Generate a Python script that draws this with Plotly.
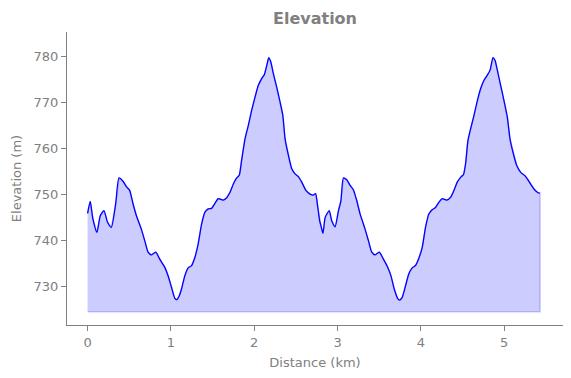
import plotly.graph_objects as go

distance_km = [
    0.000, 0.032, 0.064, 0.112, 0.152, 0.196, 0.240, 0.285, 0.337, 0.377,
    0.425, 0.466, 0.505, 0.545, 0.586, 0.645, 0.686, 0.726, 0.766, 0.818,
    0.866, 0.927, 0.966, 1.007, 1.047, 1.070, 1.099, 1.127, 1.167, 1.207,
    1.248, 1.288, 1.327, 1.368, 1.408, 1.448, 1.488, 1.528, 1.568, 1.628,
    1.669, 1.709, 1.749, 1.789, 1.820, 1.848, 1.889, 1.929, 1.969, 2.010,
    2.049, 2.090, 2.120, 2.150, 2.174, 2.198, 2.230, 2.270, 2.310, 2.343,
    2.370, 2.410, 2.450, 2.490, 2.530, 2.570, 2.620, 2.670, 2.710, 2.736,
    2.760, 2.785, 2.805, 2.824, 2.852, 2.900, 2.930, 2.970, 3.010, 3.040,
    3.070, 3.110, 3.150, 3.190, 3.230, 3.270, 3.330, 3.370, 3.410, 3.450,
    3.500, 3.550, 3.600, 3.640, 3.680, 3.720, 3.745, 3.775, 3.815, 3.855,
    3.895, 3.935, 3.975, 4.015, 4.055, 4.095, 4.135, 4.175, 4.215, 4.255,
    4.310, 4.356, 4.396, 4.436, 4.484, 4.510, 4.536, 4.564, 4.597, 4.637,
    4.677, 4.717, 4.757, 4.797, 4.830, 4.865, 4.890, 4.917, 4.957, 4.997,
    5.037, 5.069, 5.110, 5.150, 5.198, 5.247, 5.285, 5.326, 5.367, 5.407,
    5.430,
]

elevation_m = [
    745.9, 748.5, 744.7, 741.8, 745.4, 746.5, 744.0, 742.9, 748.0, 753.6,
    752.9, 751.7, 750.9, 748.0, 745.4, 742.5, 740.0, 737.5, 736.9, 737.5,
    736.0, 734.2, 732.4, 729.9, 727.5, 727.2, 728.0, 729.5, 732.4, 734.1,
    734.6, 736.4, 739.3, 743.6, 746.2, 746.9, 747.0, 748.1, 749.1, 748.8,
    749.3, 750.5, 752.3, 753.6, 754.2, 757.4, 762.1, 765.0, 768.3, 771.2,
    773.7, 775.2, 776.0, 778.0, 779.7, 778.8, 776.2, 773.3, 770.1, 767.2,
    762.1, 758.5, 755.6, 754.5, 753.9, 752.7, 750.9, 750.1, 749.9, 750.2,
    747.6, 744.3, 742.9, 741.6, 745.1, 746.5, 744.3, 743.0, 746.5, 748.7,
    753.6, 753.2, 752.0, 751.0, 748.7, 745.8, 742.5, 740.0, 737.5, 736.9,
    737.5, 736.0, 734.3, 732.4, 729.5, 727.5, 727.1, 727.7, 730.2, 732.8,
    734.1, 734.6, 736.2, 738.5, 742.9, 745.8, 746.7, 747.2, 748.3, 749.1,
    748.8, 749.4, 750.9, 752.7, 753.9, 754.3, 756.7, 761.7, 764.3, 767.2,
    770.4, 773.0, 774.8, 775.9, 777.0, 779.7, 779.1, 777.0, 773.7, 770.4,
    766.8, 762.1, 758.8, 756.3, 754.8, 754.1, 753.2, 752.0, 751.0, 750.4,
    750.3,
]

fill_base_m = 724.6

x_ticks = [0, 1, 2, 3, 4, 5]
y_ticks = [730, 740, 750, 760, 770, 780]

GRAY = "#808080"
FONT = "DejaVu Sans"

fig = go.Figure()

# filled area (polygon down to base)
fig.add_trace(go.Scatter(
    x=distance_km + [distance_km[-1], distance_km[0]],
    y=elevation_m + [fill_base_m, fill_base_m],
    fill="toself",
    fillcolor="rgba(0,0,255,0.2)",
    line=dict(color="rgba(0,0,255,0.2)", width=1.5),
    mode="lines",
    hoverinfo="skip",
    showlegend=False,
))

# elevation line
fig.add_trace(go.Scatter(
    x=distance_km,
    y=elevation_m,
    mode="lines",
    line=dict(color="#0000ff", width=1.3, shape="spline", smoothing=0.6),
    showlegend=False,
))

axis_common = dict(
    showgrid=False,
    zeroline=False,
    showline=True,
    linecolor=GRAY,
    linewidth=1,
    ticks="outside",
    tickcolor=GRAY,
    ticklen=5,
    tickwidth=1,
    tickfont=dict(family=FONT, size=13, color=GRAY),
    mirror=False,
)

fig.update_layout(
    width=571,
    height=378,
    margin=dict(l=67, r=8, t=32, b=53),
    paper_bgcolor="white",
    plot_bgcolor="white",
    font=dict(family=FONT, color=GRAY),
    title=dict(
        text="<b>Elevation</b>",
        font=dict(family=FONT, size=16, color=GRAY),
        x=0.5, xref="paper", xanchor="center",
        y=1 - 18 / 378, yref="container", yanchor="middle",
    ),
    xaxis=dict(
        axis_common,
        range=[-0.247, 5.705],
        tickvals=x_ticks,
        ticktext=[str(v) for v in x_ticks],
        title=dict(text="Distance (km)", font=dict(family=FONT, size=13, color=GRAY), standoff=9),
    ),
    yaxis=dict(
        axis_common,
        range=[721.7, 785.27],
        tickvals=y_ticks,
        ticktext=[str(v) for v in y_ticks],
        title=dict(text="Elevation (m)", font=dict(family=FONT, size=13, color=GRAY), standoff=9),
    ),
)

fig.write_html(
    "out.html",
    config={"displayModeBar": False},
    post_script="document.body.style.margin='0';document.body.style.overflow='hidden';",
)
